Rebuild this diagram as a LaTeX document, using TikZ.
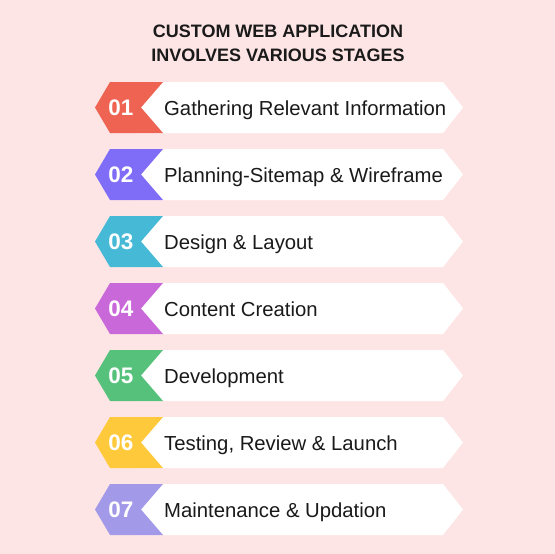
\documentclass[tikz,border=0pt]{standalone}
\usepackage{fontspec}
\setmainfont{Liberation Sans}
\definecolor{bgpink}{HTML}{FEE5E5}
\definecolor{txtdark}{HTML}{1A1A1A}
\definecolor{cA}{HTML}{EE6352}
\definecolor{cB}{HTML}{7F6CF7}
\definecolor{cC}{HTML}{45B9D6}
\definecolor{cD}{HTML}{C968D9}
\definecolor{cE}{HTML}{56C17A}
\definecolor{cF}{HTML}{FFC93C}
\definecolor{cG}{HTML}{A29AE8}
\tikzset{
  titletext/.style={font=\fontsize{18}{24}\selectfont\bfseries, text=txtdark, align=center, inner sep=0pt},
  numtext/.style={font=\fontsize{22.5}{24}\selectfont\bfseries, text=white, inner sep=0pt},
  labeltext/.style={font=\fontsize{20.3}{24}\selectfont, text=txtdark, anchor=base west, inner sep=0pt},
}
\newcommand{\stagerow}[4]{%
  % #1 = centre y, #2 = colour, #3 = number, #4 = label
  \fill[white] (135,#1-25.5) -- (443,#1-25.5) -- (463,#1) -- (443,#1+25.5) -- (135,#1+25.5) -- cycle;
  \fill[#2] (95,#1) -- (110,#1-25.5) -- (163,#1-25.5) -- (141,#1) -- (163,#1+25.5) -- (110,#1+25.5) -- cycle;
  \node[numtext] (num#3) at (121,#1) {#3};
  \node[labeltext] (lab#3) at (164,#1+7.5) {#4};
}
\begin{document}
\begin{tikzpicture}[x=1pt,y=-1pt]
\fill[bgpink] (0,0) rectangle (555,554);
\useasboundingbox (0,0) rectangle (555,554);
\node[titletext] (title) at (278,43) {CUSTOM WEB APPLICATION\\INVOLVES VARIOUS STAGES};
\stagerow{107.5}{cA}{01}{Gathering Relevant Information}
\stagerow{174.5}{cB}{02}{Planning-Sitemap \& Wireframe}
\stagerow{241.5}{cC}{03}{Design \& Layout}
\stagerow{308.5}{cD}{04}{Content Creation}
\stagerow{375.5}{cE}{05}{Development}
\stagerow{442.5}{cF}{06}{Testing, Review \& Launch}
\stagerow{509.5}{cG}{07}{Maintenance \& Updation}
\end{tikzpicture}
\end{document}
